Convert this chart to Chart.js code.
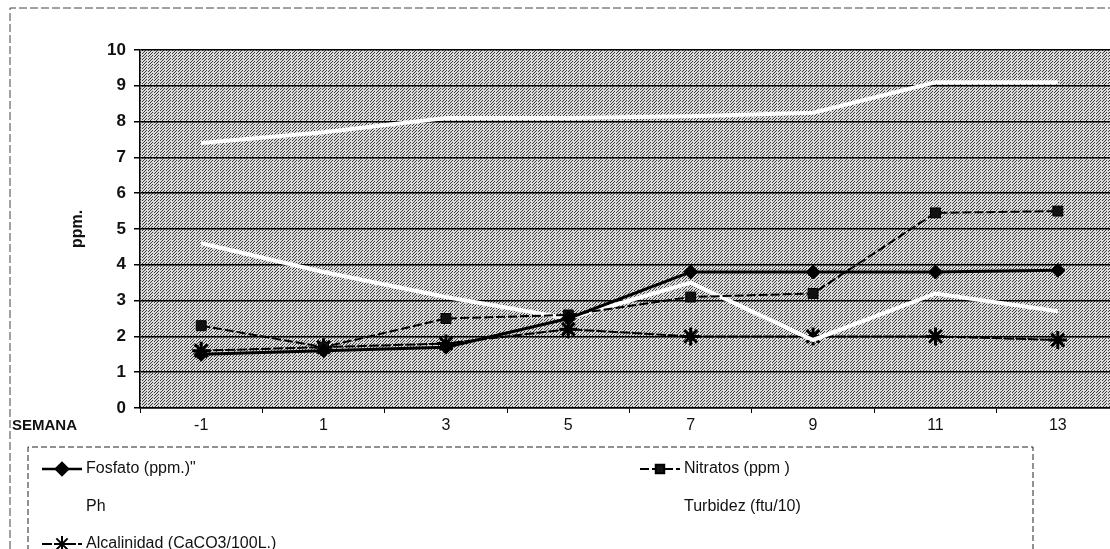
<!DOCTYPE html>
<html>
<head>
<meta charset="utf-8">
<script src="https://cdn.jsdelivr.net/npm/chart.js@4/dist/chart.umd.min.js"></script>
<style>
  html, body { margin: 0; padding: 0; background: #fff; overflow: hidden; }
  #wrap { width: 1110px; height: 549px; position: relative; overflow: hidden; }
</style>
</head>
<body>
<!-- the scanned figure is cropped on the right, so the canvas runs past the window -->
<div id="wrap"><canvas id="chart" width="1131" height="549"></canvas></div>
<script>
const semanas = ['-1', '1', '3', '5', '7', '9', '11', '13'];
const fosfato = [1.5, 1.6, 1.7, 2.5, 3.8, 3.8, 3.8, 3.85];
const nitratos = [2.3, 1.7, 2.5, 2.6, 3.1, 3.2, 5.45, 5.5];
const ph = [7.4, 7.7, 8.1, 8.1, 8.15, 8.25, 9.1, 9.1];
const turbidez = [4.6, 3.8, 3.1, 2.5, 3.5, 1.9, 3.2, 2.7];
const alcalinidad = [1.6, 1.7, 1.8, 2.2, 2.0, 2.0, 2.0, 1.9];
const yTicks = [0, 1, 2, 3, 4, 5, 6, 7, 8, 9, 10];

const FONT = "'Liberation Sans', Arial, sans-serif";

// halftone-ish grey texture like the scanned plot area
function makePattern(ctx) {
    const c = document.createElement('canvas');
    c.width = 6; c.height = 6;
    const p = c.getContext('2d');
    p.fillStyle = '#dadada';
    p.fillRect(0, 0, 6, 6);
    p.fillStyle = '#3a3a3a';
    for (let x = 0; x < 6; x++) {
        for (let y = 0; y < 6; y++) {
            if ((x + y) % 3 === 0 && (x + 2 * y) % 6 !== 3) p.fillRect(x, y, 1, 1);
        }
    }
    return ctx.createPattern(c, 'repeat');
}

const backgroundPlugin = {
    id: 'plotBackground',
    beforeDraw(chart) {
        const { ctx, chartArea } = chart;
        ctx.save();
        ctx.fillStyle = '#fff';
        ctx.fillRect(0, 0, chart.width, chart.height);
        ctx.fillStyle = makePattern(ctx);
        ctx.fillRect(chartArea.left, chartArea.top, chartArea.right - chartArea.left, chartArea.bottom - chartArea.top);
        // outer dashed frame (scan edge)
        ctx.strokeStyle = '#444';
        ctx.lineWidth = 1;
        ctx.setLineDash([8, 3]);
        ctx.beginPath();
        ctx.moveTo(10, chart.height);
        ctx.lineTo(10, 8);
        ctx.lineTo(chart.width, 8);
        ctx.stroke();
        ctx.restore();
    }
};

const legendPlugin = {
    id: 'boxLegend',
    afterDraw(chart) {
        const { ctx } = chart;
        ctx.save();
        ctx.strokeStyle = '#222';
        ctx.lineWidth = 1;
        ctx.setLineDash([6, 3]);
        ctx.beginPath();
        ctx.moveTo(28, chart.height + 2);
        ctx.lineTo(28, 447);
        ctx.lineTo(1033, 447);
        ctx.lineTo(1033, chart.height + 2);
        ctx.stroke();
        ctx.setLineDash([]);

        const slots = [[42, 469], [640, 469], [42, 507], [640, 507], [42, 544]];
        chart.data.datasets.forEach((ds, i) => {
            const [x, y] = slots[i];
            ctx.strokeStyle = ds.borderColor;
            ctx.lineWidth = Math.min(ds.borderWidth, 2.5);
            ctx.setLineDash(ds.borderDash || []);
            ctx.beginPath();
            ctx.moveTo(x, y);
            ctx.lineTo(x + 40, y);
            ctx.stroke();
            ctx.setLineDash([]);
            if (ds.pointRadius > 0) {
                ctx.fillStyle = ds.pointBackgroundColor;
                ctx.strokeStyle = ds.pointBorderColor;
                Chart.helpers.drawPoint(ctx, {
                    pointStyle: ds.pointStyle,
                    radius: ds.pointRadius - 1,
                    borderWidth: ds.pointBorderWidth || 1,
                    rotation: 0
                }, x + 20, y);
            }
            ctx.fillStyle = '#111';
            ctx.font = '16px ' + FONT;
            ctx.textBaseline = 'middle';
            ctx.fillText(ds.label, x + 44, y);
        });
        ctx.restore();
    }
};

new Chart(document.getElementById('chart'), {
    type: 'line',
    data: {
        labels: semanas,
        datasets: [
            {
                label: 'Fosfato (ppm.)"',
                data: fosfato,
                borderColor: '#000',
                borderWidth: 3,
                pointStyle: 'rectRot',
                pointRadius: 7,
                pointBackgroundColor: '#000',
                pointBorderColor: '#000',
                pointBorderWidth: 1
            },
            {
                label: 'Nitratos (ppm )',
                data: nitratos,
                borderColor: '#000',
                borderWidth: 2,
                borderDash: [9, 3],
                pointStyle: 'rect',
                pointRadius: 7,
                pointBackgroundColor: '#111',
                pointBorderColor: '#000',
                pointBorderWidth: 1
            },
            {
                label: 'Ph',
                data: ph,
                borderColor: '#fff',
                borderWidth: 4,
                pointStyle: 'circle',
                pointRadius: 0,
                pointBackgroundColor: '#fff',
                pointBorderColor: '#fff'
            },
            {
                label: 'Turbidez (ftu/10)',
                data: turbidez,
                borderColor: '#fff',
                borderWidth: 4,
                pointStyle: 'crossRot',
                pointRadius: 0,
                pointBackgroundColor: '#fff',
                pointBorderColor: '#fff'
            },
            {
                label: 'Alcalinidad (CaCO3/100L.)',
                data: alcalinidad,
                borderColor: '#000',
                borderWidth: 2,
                borderDash: [10, 2],
                pointStyle: 'star',
                pointRadius: 9,
                pointBackgroundColor: '#000',
                pointBorderColor: '#000',
                pointBorderWidth: 3
            }
        ]
    },
    options: {
        responsive: false,
        animation: false,
        layout: { padding: { top: 50, right: 0, left: 0, bottom: 0 } },
        plugins: {
            legend: { display: false },
            tooltip: { enabled: false }
        },
        scales: {
            x: {
                type: 'category',
                offset: true,
                afterFit(scale) { scale.height = 141; },
                grid: {
                    offset: true,
                    drawOnChartArea: false,
                    drawTicks: true,
                    tickLength: 5,
                    color: '#000'
                },
                border: { color: '#000', width: 1.5 },
                ticks: {
                    color: '#111',
                    padding: 3,
                    font: { family: FONT, size: 16 }
                },
                title: { display: false }
            },
            y: {
                min: 0,
                max: 10,
                afterFit(scale) { scale.width = 140; },
                afterBuildTicks(scale) { scale.ticks = yTicks.map(v => ({ value: v })); },
                grid: {
                    color: '#000',
                    lineWidth: 1.5,
                    tickLength: 6,
                    tickColor: '#000'
                },
                border: { color: '#000', width: 1.5 },
                ticks: {
                    color: '#111',
                    padding: 8,
                    font: { family: FONT, size: 17, weight: 'bold' }
                },
                title: {
                    display: true,
                    text: 'ppm.',
                    color: '#111',
                    padding: { top: 68, bottom: 0 },
                    font: { family: FONT, size: 16, weight: 'bold' }
                }
            }
        }
    },
    plugins: [backgroundPlugin, legendPlugin, {
        id: 'semanaLabel',
        afterDraw(chart) {
            const { ctx } = chart;
            ctx.save();
            ctx.fillStyle = '#111';
            ctx.font = 'bold 15px ' + FONT;
            ctx.textBaseline = 'middle';
            ctx.fillText('SEMANA', 12, 426);
            ctx.restore();
        }
    }]
});
</script>
</body>
</html>
